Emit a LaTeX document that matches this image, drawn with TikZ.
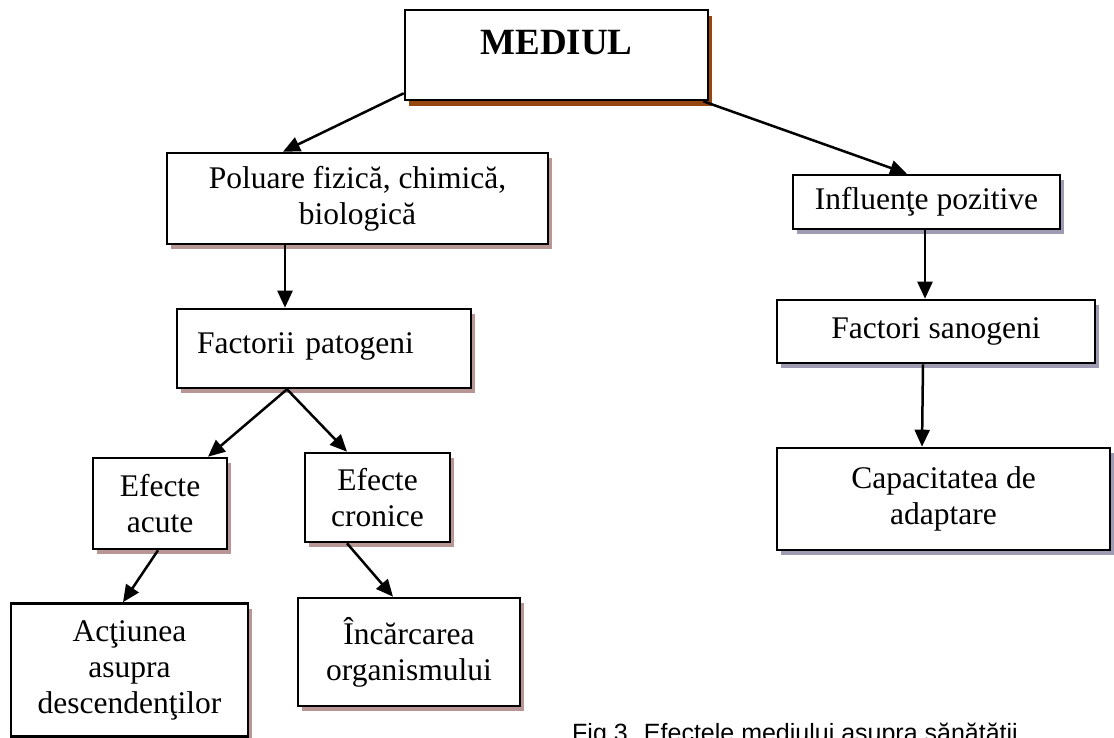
\documentclass[tikz,border=0pt]{standalone}
\usepackage{fontspec}
\setmainfont{Liberation Serif}
\newfontfamily\capfont{Liberation Sans}
\usetikzlibrary{arrows.meta,shadows}
\definecolor{shadL}{HTML}{B89696}
\definecolor{shadR}{HTML}{9E9BB2}
\definecolor{shadM}{HTML}{96460F}
\newcommand\boxfont{\fontsize{31.5}{36}\selectfont}
\tikzset{
  box/.style={draw=black, line width=2.6pt, fill=white, rectangle, inner sep=0pt,
              align=center, font=\boxfont},
  shl/.style={general shadow={fill=shadL, shadow xshift=4pt, shadow yshift=-5pt}},
  shr/.style={general shadow={fill=shadR, shadow xshift=4pt, shadow yshift=-5pt}},
  shm/.style={general shadow={fill=shadM, shadow xshift=4pt, shadow yshift=-6pt}},
  arr/.style={line width=2.5pt, -{Triangle[length=17pt,width=15pt]}}
}
\begin{document}
\begin{tikzpicture}[x=1pt,y=-1pt]
\clip (0,0) rectangle (1114,738);
\fill[white] (0,0) rectangle (1114,738);

% top
\node[box, shm, minimum width=303pt, minimum height=90pt,
      font=\fontsize{37}{40}\selectfont\bfseries, text height=24pt, text depth=24pt]
      (med) at (556.5,55) {MEDIUL};

% left branch
\node[box, shl, minimum width=381pt, minimum height=91pt] (pol) at (357.5,198.5)
      {Poluare fizică, chimică,\\biologică};
\node[box, shl, minimum width=294pt, minimum height=79pt, text width=254pt,
      inner xsep=20pt, align=left, text height=22pt, text depth=12pt] (fac) at (324,348.5)
      {Factorii patogeni};
\node[box, shl, minimum width=134pt, minimum height=91pt] (acu) at (160,503.5)
      {Efecte\\acute};
\node[box, shl, minimum width=145pt, minimum height=89pt] (cro) at (377.5,497.5)
      {Efecte\\cronice};
\node[box, shl, minimum width=237pt, minimum height=133pt] (act) at (129.5,670)
      {Acţiunea\\asupra\\descendenţilor};
\node[box, shl, minimum width=222pt, minimum height=108pt] (inc) at (409,652)
      {Încărcarea\\organismului};

% right branch
\node[box, shr, minimum width=267pt, minimum height=54pt] (inf) at (926.5,202)
      {Influenţe pozitive};
\node[box, shr, minimum width=318pt, minimum height=63pt] (san) at (936,331.5)
      {Factori sanogeni};
\node[box, shr, minimum width=333pt, minimum height=102pt] (cap) at (943.5,499)
      {Capacitatea de\\adaptare};

% caption
\node[anchor=base west, inner sep=0pt, font=\capfont\fontsize{25}{30}\selectfont]
      (fig) at (572,741) {Fig.3. Efectele mediului asupra sănătăţii};

% connectors
\draw[arr] ([yshift=8pt]med.south west) -- ([xshift=-74.5pt]pol.north);
\draw[arr] ([xshift=-6pt]med.south east) -- ([xshift=-19.5pt]inf.north);
\draw[arr] ([xshift=-72.5pt]pol.south) -- ([xshift=-39pt]fac.north);
\draw[arr] ([xshift=-37pt]fac.south) -- ([xshift=48pt]acu.north);
\draw[arr] ([xshift=-37pt]fac.south) -- ([xshift=-30.5pt]cro.north);
\draw[arr] ([xshift=-2pt]acu.south) -- ([xshift=-6.5pt]act.north);
\draw[arr] ([xshift=-30.5pt]cro.south) -- ([xshift=-16pt]inc.north);
\draw[arr] ([xshift=-1.5pt]inf.south) -- ([xshift=-11pt]san.north);
\draw[arr] ([xshift=-13pt]san.south) -- ([xshift=-21.5pt]cap.north);
\end{tikzpicture}
\end{document}
